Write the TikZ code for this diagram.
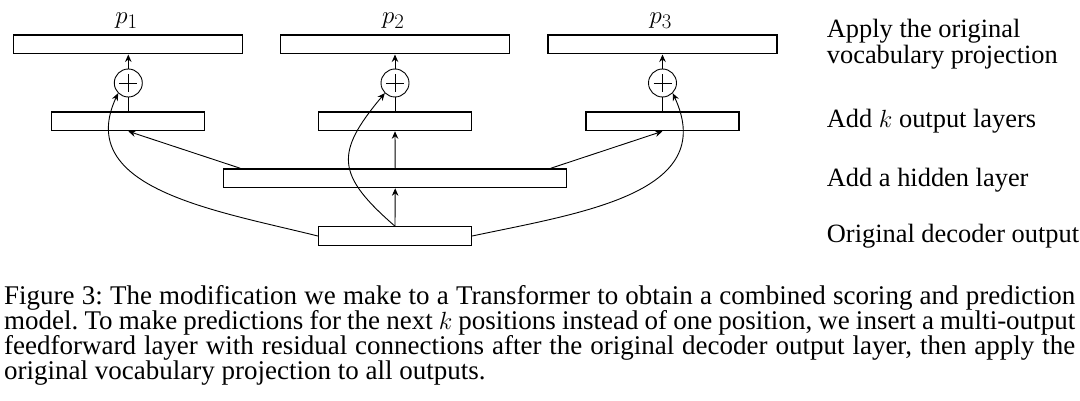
\documentclass[tikz,border=0pt]{standalone}
\usepackage{fontspec}
\setmainfont{Liberation Serif}
\usetikzlibrary{arrows.meta}
\begin{document}
\begin{tikzpicture}[x=1pt,y=-1pt,
  box/.style={draw, line width=1.3pt, inner sep=0pt, minimum height=18.7pt},
  topbox/.style={box, minimum width=229pt},
  smallbox/.style={box, minimum width=153pt},
  widebox/.style={box, minimum width=343pt},
  sumnode/.style={draw, circle, line width=0.9pt, inner sep=0pt, minimum size=28pt,
    path picture={\draw[line width=0.9pt]
      ([xshift=-9pt]path picture bounding box.center) -- ([xshift=9pt]path picture bounding box.center)
      ([yshift=-9pt]path picture bounding box.center) -- ([yshift=9pt]path picture bounding box.center);}},
  conn/.style={line width=0.9pt},
  arr/.style={conn, -{Stealth[length=7.5pt,width=6.5pt,inset=2.5pt]}},
  lbl/.style={font=\fontsize{26.4}{26.7}\selectfont, inner sep=0pt},
  plbl/.style={font=\fontsize{30}{30}\selectfont, inner sep=0pt, anchor=base},
]
\useasboundingbox (0,0) rectangle (1080,401);

% top boxes and labels
\node[topbox] (t1) at (128.3,44.5) {};
\node[topbox] (t2) at (395,44.5) {};
\node[topbox] (t3) at (662.5,44.5) {};
\node[plbl] (p1) at (126.5,24) {$p_1$};
\node[plbl] (p2) at (393.2,24) {$p_2$};
\node[plbl] (p3) at (660.7,24) {$p_3$};

% sum nodes
\node[sumnode] (c1) at (128.3,83) {};
\node[sumnode] (c2) at (395,83) {};
\node[sumnode] (c3) at (662.5,83) {};

% output layers
\node[smallbox] (m1) at (128.3,121.3) {};
\node[smallbox] (m2) at (395,121.3) {};
\node[smallbox] (m3) at (662.5,121.3) {};

% hidden layer
\node[widebox] (h) at (395.2,178.3) {};

% decoder output
\node[smallbox, minimum height=18.3pt] (b) at (395,236) {};

% connectors
\draw[conn] (m1.north) -- (c1.south);
\draw[conn] (m2.north) -- (c2.south);
\draw[conn] (m3.north) -- (c3.south);
\draw[arr] (c1.north) -- (t1.south);
\draw[arr] (c2.north) -- (t2.south);
\draw[arr] (c3.north) -- (t3.south);
\draw[arr] ([xshift=17.3pt]h.north west) -- (m1.south);
\draw[arr] (h.north) -- (m2.south);
\draw[arr] ([xshift=-16.7pt]h.north east) -- (m3.south);
\draw[arr] (b.north) -- (h.south);
\draw[arr] (b.west) to[out=166,in=-115,looseness=1.1] (c1.south west);
\draw[arr] (b.north) to[out=139,in=230,looseness=1.5] (c2.south west);
\draw[arr] (b.east) to[out=12,in=-65,looseness=1.15] (c3.south east);

% right-hand labels
\node[lbl, anchor=north west, align=left] (l1) at (826.7,18.7) {Apply the original\\vocabulary projection};
\node[lbl, anchor=base west] (l2) at (826.7,127.7) {Add $k$ output layers};
\node[lbl, anchor=base west] (l3) at (826.7,186) {Add a hidden layer};
\node[lbl, anchor=base west] (l4) at (826.7,242.7) {Original decoder output};

% caption
\node[anchor=north west, inner sep=0pt, text width=1071pt, align=justify,
  font=\fontsize{27}{25}\selectfont\frenchspacing] (cap) at (4,284.9)
  {Figure 3: The modification we make to a Transformer to obtain a combined scoring and prediction\linebreak
   model. To make predictions for the next $k$ positions instead of one position, we insert a multi-output\linebreak
   feedforward layer with residual connections after the original decoder output layer, then apply the\linebreak
   original vocabulary projection to all outputs.};
\end{tikzpicture}
\end{document}
